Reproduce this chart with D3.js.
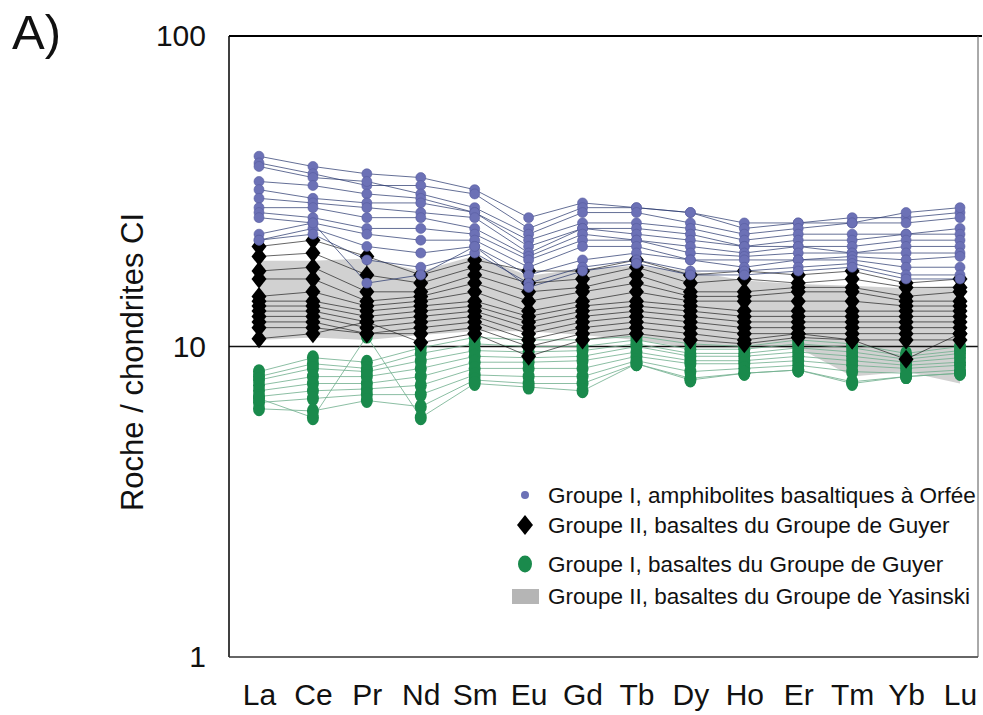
<!DOCTYPE html>
<html>
<head>
<meta charset="utf-8">
<script src="https://cdn.jsdelivr.net/npm/d3@7"></script>
<style>
  body { margin: 0; background: #fff; }
  svg { display: block; font-family: "Liberation Sans", Arial, sans-serif; }
</style>
</head>
<body>
<svg id="chart" width="983" height="715"></svg>
<script>
const elements = ["La", "Ce", "Pr", "Nd", "Sm", "Eu", "Gd", "Tb", "Dy", "Ho", "Er", "Tm", "Yb", "Lu"];
const yTicks = [1, 10, 100];

// Groupe I, amphibolites basaltiques à Orfée
const orfee = [
    [41, 38, 36, 35, 32, 26, 29, 28, 27, 25, 25, 26, 26, 27],
    [39, 36, 33, 33, 31, 24, 28, 28, 27, 24, 25, 25, 27, 28],
    [38, 35, 34, 31, 28, 23, 27, 27, 25, 23, 24, 25, 25, 26],
    [34, 33, 31, 30, 27, 22, 25, 25, 24, 22, 23, 23, 23, 24],
    [32, 30, 29, 29, 27, 21, 24, 24, 23, 21, 22, 22, 23, 23],
    [30, 29, 28, 27, 26, 20, 24, 23, 22, 21, 21, 21, 22, 22],
    [28, 28, 26, 26, 24, 19.5, 23, 22, 21, 20, 21, 20, 21, 21],
    [27, 26, 24, 24, 23, 19, 22, 22, 20, 19.5, 20, 20, 20, 20],
    [23, 25, 23, 22, 22, 18, 21, 21, 19, 19, 19, 19.5, 19, 19.5],
    [22, 24, 21, 20, 21, 17, 19, 20, 19, 18, 19, 19, 18, 18],
    [22, 23, 19, 18, 20, 16, 18, 19, 17.5, 17.5, 18, 18.5, 17, 17],
    [26, 25, 16, 17, 21, 15.5, 17.5, 18.5, 17, 17, 17.5, 18, 16.5, 16.5]
];

// Groupe II, basaltes du Groupe de Guyer
const guyer2 = [
    [21, 22, 19.5, 17, 19, 17.5, 17.5, 19, 17, 17.5, 17, 17.5, 16, 16.5],
    [19.5, 20, 17, 16, 18, 16, 16.5, 18, 16, 16.5, 16, 16.5, 15.5, 15.5],
    [17.5, 18, 15, 15, 17, 15, 15.5, 17, 15, 15, 15.5, 15.5, 14.5, 15],
    [16.5, 16.5, 14, 14.5, 16, 14, 15, 16, 14.5, 14.5, 15, 15, 14, 14],
    [14.5, 15, 13.5, 14, 15, 13, 14, 15, 14, 14, 14, 14, 13.5, 13.5],
    [14, 14, 13, 13.5, 14, 12.5, 13.5, 14, 13.5, 13, 13, 13, 13, 13],
    [13.5, 13.5, 12.5, 13, 13.5, 12, 13, 13.5, 13, 12.5, 12.5, 12.5, 12.5, 12.5],
    [13, 13, 12, 12.5, 13, 11.5, 12.5, 13, 12.5, 12, 12, 12, 12, 12],
    [12.5, 12.5, 11.5, 12, 12.5, 11, 12, 12.5, 12, 11.5, 11.5, 11.5, 11.5, 11.5],
    [12, 12, 11, 11.5, 12, 10.5, 11.5, 12, 11.5, 11, 11, 11, 11, 11],
    [11.5, 11.5, 11, 11, 11.5, 10, 11, 11.5, 11, 10.5, 11, 10.5, 10.5, 10.5],
    [10.6, 11, 12, 10.3, 11, 9.3, 10.5, 11, 10.5, 10.2, 10.7, 10.5, 9.1, 11]
];

// Groupe I, basaltes du Groupe de Guyer
const guyer1 = [
    [8.3, 9.2, 8.9, 9.9, 10.7, 10.5, 10.5, 10.8, 10.2, 10, 10.5, 10.2, 9.5, 10],
    [8.0, 8.8, 8.5, 9.5, 10.2, 10, 10, 10.5, 9.8, 9.8, 10.2, 9.9, 9.3, 9.7],
    [7.8, 8.5, 8.3, 9.0, 9.7, 9.6, 9.7, 10.2, 9.5, 9.5, 9.9, 9.6, 9.1, 9.5],
    [7.5, 8.0, 8.0, 8.5, 9.3, 9.2, 9.3, 10, 9.3, 9.3, 9.6, 9.3, 8.9, 9.2],
    [7.2, 7.6, 7.6, 8.0, 8.9, 8.9, 9.0, 9.6, 9.0, 9.0, 9.3, 9.0, 8.7, 8.9],
    [6.9, 7.2, 7.3, 7.5, 8.5, 8.5, 8.5, 9.3, 8.8, 8.8, 9.0, 8.7, 8.5, 8.7],
    [6.6, 6.8, 7.0, 7.0, 8.1, 8.0, 8.0, 9.0, 8.3, 8.5, 8.7, 8.3, 8.2, 8.4],
    [6.3, 6.2, 6.7, 6.4, 7.8, 7.6, 7.6, 8.8, 7.9, 8.2, 8.4, 7.7, 8.0, 8.2],
    [6.8, 5.9, 10.8, 5.9, 7.6, 7.4, 7.2, 8.8, 7.8, 8.2, 8.4, 7.6, 8.0, 8.2]
];

// Groupe II, basaltes du Groupe de Yasinski (envelope)
const yasinskiMax = [18.9, 18.9, 19.2, 17.5, 19.6, 16.9, 17.8, 18.2, 17.5, 16.3, 15.9, 15.7, 15.4, 15.7];
const yasinskiMin = [10.5, 10.7, 10.5, 10.9, 11.2, 11.2, 10.9, 10.5, 9.9, 9.9, 9.9, 8.0, 8.3, 7.6];

const legendLabels = [
    "Groupe I, amphibolites basaltiques à Orfée",
    "Groupe II, basaltes du Groupe de Guyer",
    "Groupe I, basaltes du Groupe de Guyer",
    "Groupe II, basaltes du Groupe de Yasinski"
];

const svg = d3.select("#chart");
const margin = { top: 36, right: 5, bottom: 58, left: 229 };
const width = 983 - margin.left - margin.right;   // 749
const height = 715 - margin.top - margin.bottom;  // 621

const x = d3.scalePoint().domain(elements).range([30, width - 18]);
const y = d3.scaleLog().domain([1, 100]).range([height, 0]);

const g = svg.append("g").attr("transform", `translate(${margin.left},${margin.top})`);

// gray envelope
const band = d3.area()
    .x((d, i) => x(elements[i]))
    .y0((d, i) => y(yasinskiMin[i]))
    .y1(d => y(d));
g.append("path")
    .datum(yasinskiMax)
    .attr("d", band)
    .attr("fill", "#c9c9c9")
    .attr("opacity", 0.85);

// gridline at 10
g.append("line")
    .attr("x1", 0).attr("x2", width)
    .attr("y1", y(10)).attr("y2", y(10))
    .attr("stroke", "#111").attr("stroke-width", 1.5);

const line = d3.line().x((d, i) => x(elements[i])).y(d => y(d));

const drawGroup = (data, lineColor, lineOpacity, marker) => {
    const grp = g.append("g");
    grp.selectAll("path.l")
        .data(data)
        .enter().append("path")
        .attr("class", "l")
        .attr("d", line)
        .attr("fill", "none")
        .attr("stroke", lineColor)
        .attr("stroke-opacity", lineOpacity)
        .attr("stroke-width", 0.9);
    const pts = data.flatMap(row => row.map((v, i) => ({ k: elements[i], v })));
    marker(grp.selectAll("g.m").data(pts).enter().append("g")
        .attr("class", "m")
        .attr("transform", d => `translate(${x(d.k)},${y(d.v)})`));
};

const ellipse = sel => sel.append("ellipse").attr("rx", 6).attr("ry", 7.5).attr("fill", "#1a8a4c");
const diamond = sel => sel.append("path").attr("d", "M0,-9.5L7.5,0L0,9.5L-7.5,0Z").attr("fill", "#000");
const circle = sel => sel.append("circle").attr("r", 5).attr("fill", "#6c71b6")
    .attr("stroke", "#575ca0").attr("stroke-width", 0.6);

drawGroup(guyer1, "#6fae8d", 0.9, ellipse);
drawGroup(guyer2, "#1a1a1a", 0.75, diamond);
drawGroup(orfee, "#27366c", 0.8, circle);

// frame
g.append("line").attr("x1", 0).attr("x2", width + 4).attr("y1", 0).attr("y2", 0)
    .attr("stroke", "#000").attr("stroke-width", 2);
g.append("line").attr("x1", 0).attr("x2", 0).attr("y1", 0).attr("y2", height)
    .attr("stroke", "#000").attr("stroke-width", 1.5);
g.append("line").attr("x1", 0).attr("x2", width).attr("y1", height).attr("y2", height)
    .attr("stroke", "#333").attr("stroke-width", 1.5);
g.append("line").attr("x1", width).attr("x2", width).attr("y1", 0).attr("y2", height)
    .attr("stroke", "#555").attr("stroke-width", 1);

// axes
const yAxis = g.append("g")
    .call(d3.axisLeft(y).tickValues(yTicks).tickSize(0).tickPadding(23).tickFormat(d3.format("d")));
yAxis.select(".domain").remove();
yAxis.selectAll("text").attr("font-size", 30).attr("fill", "#111")
    .style("font-family", "'Liberation Sans', Arial, sans-serif");

const xAxis = g.append("g")
    .attr("transform", `translate(0,${height})`)
    .call(d3.axisBottom(x).tickSize(0).tickPadding(27));
xAxis.select(".domain").remove();
xAxis.selectAll("text").attr("font-size", 30).attr("fill", "#111")
    .style("font-family", "'Liberation Sans', Arial, sans-serif");

// y title
svg.append("text")
    .attr("transform", "translate(143,362) rotate(-90)")
    .attr("text-anchor", "middle")
    .attr("font-size", 31)
    .attr("fill", "#111")
    .text("Roche / chondrites CI");

// panel label
svg.append("text")
    .attr("x", 12).attr("y", 49)
    .attr("font-size", 49)
    .attr("fill", "#111")
    .text("A)");

// legend
const legend = svg.append("g");
const rows = [495, 525, 564, 596];
legend.append("circle").attr("cx", 525).attr("cy", rows[0]).attr("r", 4).attr("fill", "#6c71b6");
legend.append("path").attr("transform", `translate(525,${rows[1]})`)
    .attr("d", "M0,-10L8,0L0,10L-8,0Z").attr("fill", "#000");
legend.append("ellipse").attr("cx", 525).attr("cy", rows[2]).attr("rx", 7).attr("ry", 8.5).attr("fill", "#1a8a4c");
legend.append("rect").attr("x", 512).attr("y", rows[3] - 7).attr("width", 27).attr("height", 15).attr("fill", "#b5b5b5");
legend.selectAll("text.lg")
    .data(legendLabels)
    .enter().append("text")
    .attr("class", "lg")
    .attr("x", 548)
    .attr("y", (d, i) => rows[i] + 8)
    .attr("font-size", 22.5)
    .attr("fill", "#111")
    .text(d => d);
</script>
</body>
</html>
